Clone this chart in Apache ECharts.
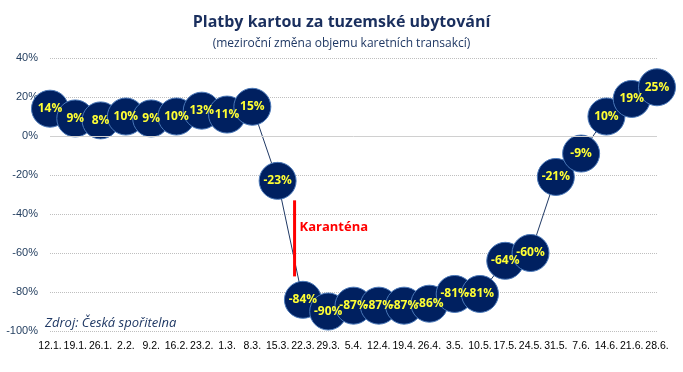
<!DOCTYPE html>
<html>
<head>
<meta charset="utf-8">
<script src="https://cdn.jsdelivr.net/npm/echarts@6/dist/echarts.min.js"></script>
<style>html,body{margin:0;padding:0;background:#fff}#c{width:683px;height:372px}</style>
</head>
<body>
<div id="c"></div>
<script>
const categories = ['12.1.','19.1.','26.1.','2.2.','9.2.','16.2.','23.2.','1.3.','8.3.','15.3.','22.3.','29.3.','5.4.','12.4.','19.4.','26.4.','3.5.','10.5.','17.5.','24.5.','31.5.','7.6.','14.6.','21.6.','28.6.'];
const values = [14,9,8,10,9,10,13,11,15,-23,-84,-90,-87,-87,-87,-86,-81,-81,-64,-60,-21,-9,10,19,25];
const yTicks = {min:-100, max:40, interval:20};

const font = '"Open Sans", "Noto Sans", sans-serif';
const chart = echarts.init(document.getElementById('c'));
chart.setOption({
  animation:false,
  title:[
    {text:'Platby kartou za tuzemské ubytování', left:'center', top:9,
     textStyle:{color:'#1a2f5e', fontSize:16, fontWeight:'bold', fontFamily:font}},
    {text:'(meziroční změna objemu karetních transakcí)', left:'center', top:33,
     textStyle:{color:'#1F3864', fontSize:12, fontWeight:'normal', fontFamily:font}}
  ],
  grid:{left:50, right:26, top:58, bottom:41},
  xAxis:{type:'category', data:categories, boundaryGap:false,
    axisLine:{show:false}, axisTick:{show:false},
    axisLabel:{interval:0, color:'#000', fontSize:10.5, fontFamily:'"Liberation Sans", sans-serif', margin:10}},
  yAxis:{type:'value', min:yTicks.min, max:yTicks.max, interval:yTicks.interval,
    axisLine:{show:false}, axisTick:{show:false},
    axisLabel:{formatter:'{value}%', color:'#243F60', fontSize:11, fontFamily:'"Liberation Sans", sans-serif', margin:12},
    splitLine:{lineStyle:{type:'dotted', color:'#bfbfbf'}}},
  series:[
    {type:'line', data:[], z:1, silent:true,
     markLine:{silent:true, symbol:'none', label:{show:false},
       lineStyle:{type:'solid', color:'#d0d0d0', width:1}, data:[{yAxis:0}]}},
    {type:'line', data:values, z:3,
     symbol:'circle', symbolSize:37,
     lineStyle:{color:'#1F3864', width:1},
     itemStyle:{color:'#002060', borderColor:'#4a78b8', borderWidth:1},
     label:{show:true, position:'inside', formatter:'{c}%', color:'#FFFF33',
       fontSize:12, fontWeight:'bold', fontFamily:font}}
  ]
});

function drawAnnot(){
  const p9 = chart.convertToPixel({xAxisIndex:0, yAxisIndex:0}, [9, -33]);
  const p10 = chart.convertToPixel({xAxisIndex:0, yAxisIndex:0}, [10, -72]);
  const x = p9[0] + (p10[0]-p9[0])*0.67;
  const pSrc = chart.convertToPixel({xAxisIndex:0, yAxisIndex:0}, [0, -96]);
  const pTxt = chart.convertToPixel({xAxisIndex:0, yAxisIndex:0}, [0, -47]);
  chart.setOption({graphic:[
    {type:'line', shape:{x1:x, y1:p9[1], x2:x, y2:p10[1]}, style:{stroke:'#FF0000', lineWidth:3}, z:10},
    {type:'text', x:x+5, y:pTxt[1], style:{text:'Karanténa', fill:'#FF0000', font:'bold 13px '+font, textVerticalAlign:'middle'}, z:10},
    {type:'text', x:pSrc[0]-5, y:pSrc[1], style:{text:'Zdroj: Česká spořitelna', fill:'#1F3864', font:'italic 13px '+font, textVerticalAlign:'middle'}, z:10}
  ]});
}
drawAnnot();
</script>
</body>
</html>
